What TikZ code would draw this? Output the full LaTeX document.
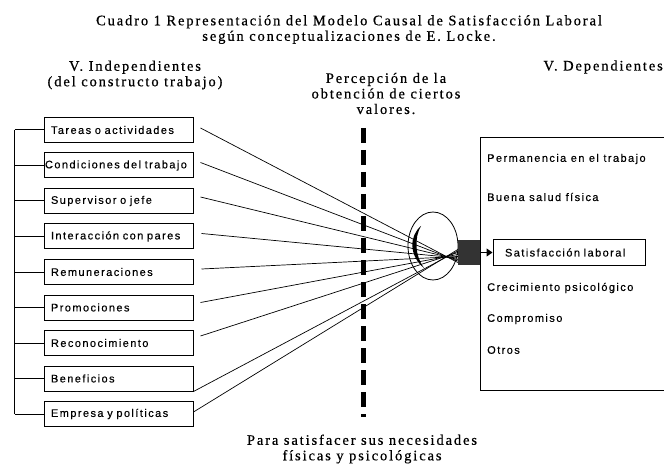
\documentclass[tikz,border=0pt]{standalone}
\usepackage{fontspec}
\setmainfont{Liberation Serif}
\newfontfamily\headfont{Liberation Serif}[LetterSpace=13, FakeBold=0.6]
\newfontfamily\labelfont{Liberation Sans}[LetterSpace=13, FakeBold=0.3]
\usetikzlibrary{arrows.meta, positioning, shapes.geometric}

\begin{document}
\begin{tikzpicture}[
    x=1pt, y=-1pt,
    node distance=9.5pt,
    head/.style={align=center, font=\headfont\fontsize{14.5}{15.5}\selectfont},
    factor/.style={draw, line width=1pt, minimum width=149pt, minimum height=25pt, inner sep=0pt, text width=135pt, align=left, font=\labelfont\fontsize{11}{12}\selectfont},
    outcome/.style={anchor=west, inner sep=0pt, font=\labelfont\fontsize{11}{12}\selectfont},
    link/.style={line width=0.7pt},
]
\useasboundingbox (0,0) rectangle (664,465);

% Titles
\node[head] (title) at (349,29.5) {Cuadro 1 Representación del Modelo Causal de Satisfacción Laboral\\según conceptualizaciones de E. Locke.};
\node[head] (indep-title) at (135,75) {V. Independientes\\(del constructo trabajo)};
\node[head] (percep-title) at (386,93.5) {Percepción de la\\obtención de ciertos\\valores.};
\node[head, anchor=east, inner xsep=0pt] (dep-title) at (663,67) {V. Dependientes};
\node[head] (needs) at (362,449) {Para satisfacer sus necesidades\\físicas y psicológicas};

% Left column: job factors
\node[factor] (f1) at (118.5,130) {Tareas o actividades};
\node[factor, text width=147pt, below=of f1] (f2) {Condiciones del trabajo};
\node[factor, below=of f2] (f3) {Supervisor o jefe};
\node[factor, below=of f3] (f4) {Interacción con pares};
\node[factor, below=of f4] (f5) {Remuneraciones};
\node[factor, below=of f5] (f6) {Promociones};
\node[factor, below=of f6] (f7) {Reconocimiento};
\node[factor, below=of f7] (f8) {Beneficios};
\node[factor, below=of f8] (f9) {Empresa y políticas};

% Bracket joining the factors
\coordinate (brk-top) at ([xshift=-29pt]f1.west);
\coordinate (brk-bot) at ([xshift=-29pt]f9.west);
\draw[line width=1pt] (brk-top) -- (brk-bot);
\foreach \i in {1,...,9}
    \draw[line width=1pt] (f\i.west -| brk-top) -- (f\i.west);

% Perception barrier
\coordinate (wall-top) at (363,128);
\coordinate (wall-bot) at (363,417);
\draw[line width=5pt, dash pattern=on 15pt off 7pt] (wall-top) -- (wall-bot);

% Lens and hub
\node[draw, ellipse, line width=0.8pt, minimum width=50pt, minimum height=68pt, inner sep=0pt] (lens) at (433,246) {};
\fill (421,226) .. controls (409,236) and (409,256) .. (424,268)
      .. controls (415,256) and (414,238) .. (421,226);
\node[fill=black!80, minimum width=22pt, minimum height=25pt, inner sep=0pt] (hub) at (469,252.5) {};

% Right column: outcomes
\draw[line width=1pt] (670,138) -- (480,138) -- (480,390) -- (670,390);
\node[draw, line width=1pt, minimum width=152pt, minimum height=25pt, inner sep=0pt, text width=128pt, align=left, font=\labelfont\fontsize{11}{12}\selectfont] (sat) at (569,252.5) {Satisfacción laboral};
\node[outcome] (o1) at (487,159) {Permanencia en el trabajo};
\node[outcome] (o2) at (487,197) {Buena salud física};
\node[outcome] (o4) at (487,288) {Crecimiento psicológico};
\node[outcome] (o5) at (487,319) {Compromiso};
\node[outcome] (o6) at (487,350) {Otros};
\draw[line width=1pt, -{Triangle[length=6pt,width=8pt]}] (hub.east) -- (sat.west);

% Lines from each factor into the lens
\draw[link] ([xshift=7pt,yshift=2pt]f1.east) -- ([yshift=-10pt]hub.west);
\draw[link] ([xshift=7pt,yshift=3pt]f2.east) -- ([yshift=-8.5pt]hub.west);
\draw[link] ([xshift=7pt,yshift=4pt]f3.east) -- ([yshift=-7pt]hub.west);
\draw[link] ([xshift=8pt,yshift=3pt]f4.east) -- ([yshift=-5.5pt]hub.west);
\draw[link] ([xshift=8pt,yshift=3pt]f5.east) -- ([yshift=-4pt]hub.west);
\draw[link] ([xshift=7pt,yshift=5pt]f6.east) -- ([yshift=-2pt]hub.west);
\draw[link] ([xshift=7pt,yshift=7pt]f7.east) -- ([yshift=0pt]hub.west);
\draw[link] (f8.south east) -- ([yshift=1.5pt]hub.west);
\draw[link] ([yshift=2pt]f9.east) -- ([yshift=3pt]hub.west);

\end{tikzpicture}
\end{document}
